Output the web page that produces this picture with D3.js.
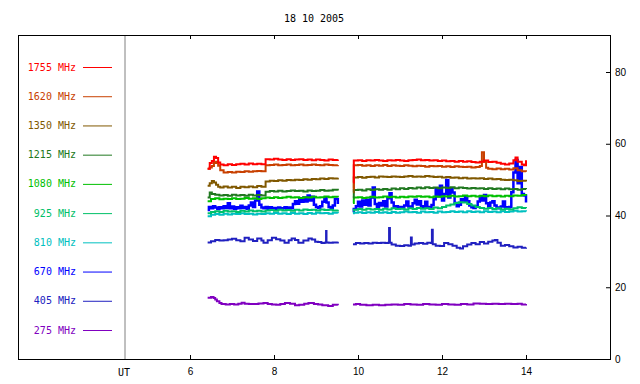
<!DOCTYPE html>
<html>
<head>
<meta charset="utf-8">
<script src="https://cdn.jsdelivr.net/npm/d3@7"></script>
<style>
  body { margin: 0; background: #fff; }
  svg { display: block; font-family: 'DejaVu Sans Mono', monospace; font-size: 10px; }
</style>
</head>
<body>
<svg id="chart" width="640" height="384"></svg>
<script>
const title = '18 10 2005';
const freqs = ['1755 MHz', '1620 MHz', '1350 MHz', '1215 MHz', '1080 MHz', '925 MHz', '810 MHz', '670 MHz', '405 MHz', '275 MHz'];
const colors = ['#ff0000', '#c84000', '#805800', '#207820', '#00c000', '#00c068', '#00c0c0', '#0000ff', '#2020c0', '#8000c0'];
const xTicks = [6, 8, 10, 12, 14];
const yTicks = [0, 20, 40, 60, 80];

// [UT hours, flux]; null marks the data gap
const s1755 = [[6.42,53.0],[6.47,54.6],[6.52,55.2],[6.57,56.4],[6.62,56.0],[6.67,54.8],[6.72,54.2],[6.8,54.0],[6.9,54.3],[7.0,54.1],[7.1,54.3],[7.2,54.4],[7.3,54.2],[7.4,54.5],[7.5,54.3],[7.6,54.4],[7.7,54.3],[7.8,55.7],[7.9,55.6],[8.0,55.8],[8.1,55.6],[8.2,55.5],[8.3,55.7],[8.4,55.5],[8.5,55.6],[8.6,55.7],[8.7,55.5],[8.8,55.6],[8.9,55.4],[9.0,55.6],[9.1,55.5],[9.2,55.3],[9.3,55.6],[9.4,55.5],[9.52,55.6],
  [9.7,null],
  [9.88,49.2],[9.9,55.3],[10.0,55.4],[10.1,55.2],[10.2,55.4],[10.3,55.3],[10.4,55.5],[10.5,55.3],[10.6,55.2],[10.7,55.4],[10.8,55.3],[10.9,55.5],[11.0,55.3],[11.1,55.2],[11.2,55.4],[11.3,55.5],[11.4,55.6],[11.5,55.4],[11.6,55.5],[11.7,55.3],[11.8,55.4],[11.9,55.2],[12.0,55.3],[12.1,55.1],[12.2,55.2],[12.3,55.0],[12.4,55.2],[12.5,55.0],[12.6,55.1],[12.7,54.9],[12.8,54.8],[12.9,55.0],[13.0,55.3],[13.1,54.9],[13.2,55.0],[13.3,54.7],[13.4,54.4],[13.5,54.2],[13.6,54.5],[13.7,55.4],[13.75,56.2],[13.8,55.0],[13.9,54.2],[13.95,54.0],[14.0,55.4]];
const s1620 = [[6.42,53.0],[6.47,53.4],[6.52,53.8],[6.57,54.6],[6.62,55.0],[6.67,53.9],[6.72,52.6],[6.8,52.0],[6.9,52.1],[7.0,52.0],[7.1,52.2],[7.2,52.1],[7.3,52.3],[7.4,52.2],[7.5,52.3],[7.6,52.4],[7.7,52.3],[7.8,54.0],[7.9,54.1],[8.0,54.2],[8.1,54.0],[8.2,54.1],[8.3,54.2],[8.4,54.0],[8.5,54.1],[8.6,54.2],[8.7,54.0],[8.8,54.1],[8.9,54.2],[9.0,54.1],[9.1,54.0],[9.2,54.2],[9.3,54.1],[9.4,54.0],[9.52,54.1],
  [9.7,null],
  [9.88,47.5],[9.9,54.0],[10.0,54.1],[10.1,53.9],[10.2,54.0],[10.3,53.8],[10.4,54.0],[10.5,53.9],[10.6,54.1],[10.7,53.8],[10.8,54.0],[10.9,53.9],[11.0,53.8],[11.1,54.0],[11.2,53.9],[11.3,53.7],[11.4,53.9],[11.5,53.8],[11.6,53.6],[11.7,53.8],[11.8,53.7],[11.9,53.8],[12.0,53.6],[12.1,53.7],[12.2,53.5],[12.3,53.7],[12.4,53.6],[12.5,53.5],[12.6,53.6],[12.7,53.4],[12.8,53.5],[12.9,53.8],[12.95,57.6],[13.0,55.0],[13.05,53.3],[13.1,53.0],[13.2,52.9],[13.3,53.1],[13.4,52.9],[13.5,53.0],[13.6,52.8],[13.7,53.2],[13.8,52.6],[13.9,52.3],[14.0,52.2]];
const s1350 = [[6.42,48.3],[6.47,49.0],[6.52,49.6],[6.57,49.2],[6.62,48.6],[6.67,48.0],[6.72,47.8],[6.8,48.1],[6.9,47.8],[7.0,48.0],[7.1,47.7],[7.2,48.0],[7.3,47.9],[7.4,48.1],[7.5,47.9],[7.6,48.2],[7.7,48.0],[7.8,49.5],[7.9,49.7],[8.0,49.6],[8.1,49.8],[8.2,49.7],[8.3,49.9],[8.4,49.8],[8.5,50.0],[8.6,49.9],[8.7,50.1],[8.8,50.0],[8.9,50.2],[9.0,50.1],[9.1,50.3],[9.2,50.2],[9.3,50.4],[9.4,50.3],[9.52,50.5],
  [9.7,null],
  [9.88,46.5],[9.9,50.6],[10.0,50.7],[10.1,50.5],[10.2,50.7],[10.3,50.8],[10.4,50.6],[10.5,50.9],[10.6,50.8],[10.7,50.7],[10.8,50.9],[10.9,50.8],[11.0,50.7],[11.1,50.9],[11.2,51.0],[11.3,50.8],[11.4,50.9],[11.5,50.8],[11.6,51.0],[11.7,50.9],[11.8,50.7],[11.9,50.8],[12.0,50.6],[12.1,50.7],[12.2,50.5],[12.3,50.6],[12.4,50.4],[12.5,50.5],[12.6,50.3],[12.7,50.4],[12.8,50.3],[12.9,50.4],[13.0,50.2],[13.1,50.3],[13.2,50.1],[13.3,50.2],[13.4,50.0],[13.5,49.9],[13.6,50.0],[13.7,49.8],[13.8,49.6],[13.9,49.7],[14.0,49.5]];
const s1215 = [[6.42,45.0],[6.47,46.4],[6.52,46.0],[6.6,45.8],[6.7,45.6],[6.8,45.7],[6.9,45.5],[7.0,45.8],[7.1,45.6],[7.2,45.7],[7.3,45.5],[7.4,45.8],[7.5,45.6],[7.6,45.7],[7.7,45.6],[7.8,46.6],[7.9,46.8],[8.0,46.7],[8.1,46.9],[8.2,46.7],[8.3,46.8],[8.4,47.0],[8.5,46.8],[8.6,46.9],[8.7,46.7],[8.8,47.0],[8.9,46.8],[9.0,46.9],[9.1,47.1],[9.2,46.9],[9.3,47.0],[9.4,47.2],[9.52,47.0],
  [9.7,null],
  [9.88,45.0],[9.9,47.1],[10.0,47.2],[10.1,47.0],[10.2,47.3],[10.3,47.1],[10.4,47.3],[10.5,47.2],[10.6,47.4],[10.7,47.2],[10.8,47.5],[10.9,47.3],[11.0,47.6],[11.1,47.4],[11.2,47.7],[11.3,47.5],[11.4,47.8],[11.5,47.6],[11.6,47.9],[11.7,47.7],[11.8,47.8],[11.9,47.6],[12.0,47.8],[12.1,47.7],[12.2,47.9],[12.3,47.6],[12.4,47.8],[12.5,47.7],[12.6,47.5],[12.7,47.7],[12.8,47.5],[12.9,47.6],[13.0,47.4],[13.1,47.6],[13.2,47.4],[13.3,47.5],[13.4,47.3],[13.5,47.5],[13.6,47.3],[13.7,47.4],[13.8,47.2],[13.9,47.4],[14.0,47.3]];
const s1080 = [[6.42,44.0],[6.5,44.6],[6.6,44.8],[6.7,44.5],[6.8,44.7],[6.9,44.6],[7.0,44.8],[7.1,44.6],[7.2,44.7],[7.3,44.9],[7.4,44.7],[7.5,44.8],[7.6,44.6],[7.7,44.8],[7.8,45.0],[7.9,44.9],[8.0,45.1],[8.1,44.9],[8.2,45.0],[8.3,45.2],[8.4,45.0],[8.5,45.1],[8.6,44.9],[8.7,45.1],[8.8,45.0],[8.9,45.2],[9.0,45.0],[9.1,45.1],[9.2,45.3],[9.3,45.1],[9.4,45.2],[9.52,45.1],
  [9.7,null],
  [9.88,43.5],[9.9,45.0],[10.0,45.1],[10.1,44.9],[10.2,45.0],[10.3,45.2],[10.4,45.0],[10.5,45.1],[10.6,45.3],[10.7,45.1],[10.8,45.2],[10.9,45.0],[11.0,45.2],[11.1,45.1],[11.2,45.3],[11.3,45.2],[11.4,45.4],[11.5,45.2],[11.6,45.3],[11.7,45.1],[11.8,45.3],[11.9,45.2],[12.0,45.4],[12.1,45.3],[12.2,45.5],[12.3,45.3],[12.4,45.4],[12.5,45.6],[12.6,45.4],[12.7,45.5],[12.8,45.3],[12.9,45.5],[13.0,45.4],[13.1,45.6],[13.2,45.4],[13.3,45.5],[13.4,45.3],[13.5,45.5],[13.6,45.4],[13.7,45.6],[13.8,45.5],[13.9,45.7],[14.0,45.6]];
const s925 = [[6.42,40.6],[6.5,41.0],[6.6,41.2],[6.7,41.0],[6.8,41.3],[6.9,41.1],[7.0,41.2],[7.1,41.0],[7.2,41.3],[7.3,41.1],[7.4,41.4],[7.5,41.2],[7.6,41.3],[7.7,41.1],[7.8,41.4],[7.9,41.5],[8.0,41.3],[8.1,41.6],[8.2,41.4],[8.3,41.5],[8.4,41.3],[8.5,41.6],[8.6,41.4],[8.7,41.7],[8.8,41.5],[8.9,41.6],[9.0,41.4],[9.1,41.7],[9.2,41.5],[9.3,41.6],[9.4,41.4],[9.52,41.6],
  [9.7,null],
  [9.88,41.4],[9.9,41.6],[10.0,41.8],[10.1,41.6],[10.2,41.9],[10.3,41.7],[10.4,41.8],[10.5,41.6],[10.6,41.9],[10.7,41.7],[10.8,42.0],[10.9,41.8],[11.0,41.9],[11.1,41.7],[11.2,42.0],[11.3,41.8],[11.4,42.1],[11.5,41.9],[11.6,42.0],[11.7,41.8],[11.8,42.2],[11.9,42.0],[12.0,42.4],[12.1,42.8],[12.2,43.1],[12.3,43.5],[12.4,43.7],[12.5,43.6],[12.6,43.2],[12.7,42.8],[12.8,42.4],[12.9,42.1],[13.0,41.9],[13.1,42.1],[13.2,41.8],[13.3,42.0],[13.4,41.7],[13.5,41.9],[13.6,41.7],[13.7,42.0],[13.8,42.3],[13.9,42.1],[14.0,42.0]];
const s810 = [[6.42,39.8],[6.5,40.2],[6.6,40.4],[6.7,40.2],[6.8,40.5],[6.9,40.3],[7.0,40.5],[7.1,40.4],[7.2,40.6],[7.3,40.4],[7.4,40.5],[7.5,40.3],[7.6,40.5],[7.7,40.4],[7.8,40.6],[7.9,40.5],[8.0,40.7],[8.1,40.5],[8.2,40.6],[8.3,40.4],[8.4,40.7],[8.5,40.5],[8.6,40.6],[8.7,40.4],[8.8,40.7],[8.9,40.5],[9.0,40.8],[9.1,40.6],[9.2,40.7],[9.3,40.5],[9.4,40.8],[9.52,40.6],
  [9.7,null],
  [9.88,40.6],[9.9,40.8],[10.0,40.9],[10.1,40.7],[10.2,40.9],[10.3,40.8],[10.4,41.0],[10.5,40.8],[10.6,40.9],[10.7,40.7],[10.8,41.0],[10.9,40.8],[11.0,40.9],[11.1,41.1],[11.2,40.9],[11.3,41.0],[11.4,40.8],[11.5,41.1],[11.6,40.9],[11.7,41.0],[11.8,40.8],[11.9,41.1],[12.0,40.9],[12.1,41.0],[12.2,41.2],[12.3,41.0],[12.4,41.1],[12.5,40.9],[12.6,41.2],[12.7,41.0],[12.8,41.1],[12.9,40.9],[13.0,41.2],[13.1,41.0],[13.2,41.1],[13.3,40.9],[13.4,41.2],[13.5,41.0],[13.6,41.1],[13.7,41.3],[13.8,41.1],[13.9,41.2],[14.0,41.1]];
const s670 = [[6.42,41.5],[6.45,42.4],[6.5,42.0],[6.55,42.6],[6.6,42.2],[6.65,41.8],[6.7,42.3],[6.75,42.0],[6.8,42.6],[6.85,42.1],[6.9,43.4],[6.95,42.0],[7.0,42.5],[7.05,41.9],[7.1,42.3],[7.15,42.0],[7.2,42.7],[7.25,42.1],[7.3,42.4],[7.35,41.9],[7.4,42.8],[7.45,43.6],[7.5,42.4],[7.55,44.2],[7.6,46.7],[7.65,43.0],[7.7,42.2],[7.75,42.0],[7.8,42.4],[7.85,41.9],[7.9,42.3],[7.95,42.0],[8.0,42.1],[8.05,41.8],[8.1,42.2],[8.15,41.9],[8.2,42.0],[8.25,42.3],[8.3,41.9],[8.35,42.2],[8.4,42.0],[8.45,43.2],[8.5,44.0],[8.55,43.3],[8.6,44.6],[8.65,43.8],[8.7,45.0],[8.75,43.9],[8.8,45.6],[8.85,44.2],[8.9,45.2],[8.95,43.0],[9.0,42.4],[9.05,42.1],[9.1,42.6],[9.15,43.8],[9.2,44.9],[9.25,43.6],[9.3,42.4],[9.35,42.0],[9.4,42.8],[9.45,44.6],[9.52,43.2],
  [9.7,null],
  [9.88,41.0],[9.9,41.8],[9.95,42.6],[10.0,43.8],[10.05,42.5],[10.1,44.2],[10.15,43.0],[10.2,44.4],[10.25,42.8],[10.3,45.0],[10.35,47.8],[10.4,43.2],[10.45,42.3],[10.5,43.5],[10.55,42.8],[10.6,44.0],[10.65,42.5],[10.7,44.8],[10.75,46.2],[10.8,43.6],[10.85,42.2],[10.9,42.6],[10.95,42.0],[11.0,42.4],[11.05,42.1],[11.1,42.8],[11.15,43.9],[11.2,42.5],[11.25,42.2],[11.3,43.4],[11.35,44.4],[11.4,43.1],[11.45,44.0],[11.5,42.6],[11.55,42.3],[11.6,43.8],[11.65,42.4],[11.7,42.1],[11.75,42.9],[11.8,44.5],[11.85,47.6],[11.9,45.4],[11.95,48.3],[12.0,44.2],[12.05,46.0],[12.1,49.9],[12.15,45.0],[12.2,47.6],[12.25,46.4],[12.3,43.5],[12.35,42.6],[12.4,43.0],[12.45,44.5],[12.5,43.8],[12.55,45.1],[12.6,44.0],[12.65,42.8],[12.7,42.3],[12.75,42.1],[12.8,42.6],[12.85,43.9],[12.9,45.4],[12.95,44.2],[13.0,45.7],[13.05,43.4],[13.1,42.5],[13.15,43.6],[13.2,44.0],[13.25,42.8],[13.3,42.2],[13.35,42.0],[13.4,42.5],[13.45,43.9],[13.5,42.3],[13.55,42.0],[13.6,42.4],[13.65,46.5],[13.7,52.0],[13.75,55.5],[13.8,49.0],[13.85,53.5],[13.9,46.0],[13.95,45.6],[14.0,43.6]];
const s405 = [[6.42,32.5],[6.5,32.8],[6.6,33.2],[6.7,33.0],[6.8,33.1],[6.9,33.3],[7.0,33.5],[7.1,33.1],[7.2,32.8],[7.3,33.8],[7.4,33.3],[7.5,32.9],[7.6,33.6],[7.7,33.0],[7.75,32.4],[7.85,33.1],[7.95,33.8],[8.05,33.4],[8.15,33.0],[8.25,32.4],[8.35,33.1],[8.42,33.6],[8.5,33.2],[8.58,32.4],[8.7,33.0],[8.82,33.6],[8.9,33.3],[8.98,32.7],[9.05,32.6],[9.13,32.3],[9.2,32.4],[9.23,32.5],[9.24,35.7],[9.25,32.5],[9.3,32.4],[9.4,32.5],[9.52,32.7],
  [9.7,null],
  [9.88,32.0],[9.95,32.3],[10.05,32.2],[10.15,32.3],[10.25,32.2],[10.35,32.4],[10.45,32.3],[10.55,32.4],[10.65,32.3],[10.72,32.4],[10.74,36.5],[10.76,32.4],[10.8,31.9],[10.9,31.6],[11.0,31.5],[11.1,31.7],[11.2,31.6],[11.26,33.9],[11.28,31.9],[11.35,32.2],[11.45,32.3],[11.55,32.1],[11.65,32.4],[11.74,32.3],[11.76,36.0],[11.78,32.0],[11.85,31.6],[11.95,31.5],[12.05,32.3],[12.15,32.0],[12.25,31.6],[12.35,31.0],[12.43,30.8],[12.5,31.4],[12.6,31.9],[12.7,32.3],[12.8,32.0],[12.9,32.6],[13.0,32.2],[13.1,32.7],[13.2,33.0],[13.26,33.2],[13.32,32.4],[13.4,31.6],[13.5,31.8],[13.6,31.4],[13.7,31.1],[13.8,31.3],[13.9,31.0],[14.0,31.1]];
const s275 = [[6.42,17.1],[6.5,17.3],[6.56,17.0],[6.6,16.6],[6.64,16.1],[6.7,15.6],[6.75,15.3],[6.85,15.2],[6.95,15.3],[7.05,15.2],[7.15,15.4],[7.23,15.7],[7.3,15.4],[7.4,15.3],[7.5,15.3],[7.63,15.5],[7.75,15.6],[7.85,15.3],[7.95,15.2],[8.05,15.1],[8.15,15.3],[8.26,15.6],[8.38,15.4],[8.5,15.0],[8.6,15.1],[8.72,15.4],[8.82,15.6],[8.95,15.3],[9.05,15.2],[9.15,15.0],[9.29,14.8],[9.4,15.1],[9.52,15.0],
  [9.7,null],
  [9.88,15.2],[9.95,15.3],[10.05,15.1],[10.2,15.0],[10.35,15.1],[10.5,15.0],[10.65,15.1],[10.8,15.2],[10.95,15.1],[11.1,15.3],[11.25,15.2],[11.4,15.1],[11.55,15.3],[11.7,15.2],[11.85,15.1],[12.0,15.3],[12.15,15.2],[12.3,15.1],[12.45,15.3],[12.6,15.2],[12.75,15.5],[12.9,15.4],[13.05,15.3],[13.2,15.4],[13.35,15.3],[13.5,15.4],[13.65,15.3],[13.8,15.4],[13.9,15.2],[14.0,15.3]];

const series = [s1755, s1620, s1350, s1215, s1080, s925, s810, s670, s405, s275];

const svg = d3.select('#chart');
const frame = { left: 18, right: 610, top: 35, bottom: 359, divider: 125 };

const x = d3.scaleLinear().domain([6, 16]).range([190, frame.right]);
const y = d3.scaleLinear().domain([0, 80]).range([frame.bottom, 72]);
const legendY = d3.scaleLinear().domain([0, freqs.length - 1]).range([67, 330]);

svg.append('text')
    .attr('x', 314)
    .attr('y', 22)
    .attr('text-anchor', 'middle')
    .text(title);

// axes
const bottomAxis = svg.append('g')
    .attr('transform', `translate(0,${frame.bottom})`)
    .call(d3.axisBottom(x).tickValues(xTicks).tickSizeInner(-4).tickSizeOuter(0).tickPadding(9));

const topAxis = svg.append('g')
    .attr('transform', `translate(0,${frame.top})`)
    .call(d3.axisTop(x).tickValues(xTicks).tickSizeInner(-4).tickSizeOuter(0).tickFormat(''));

const rightAxis = svg.append('g')
    .attr('transform', `translate(${frame.right},0)`)
    .call(d3.axisRight(y).tickValues(yTicks).tickSizeInner(-4).tickSizeOuter(0).tickPadding(5));

[bottomAxis, topAxis, rightAxis].forEach(g => {
    g.select('.domain').remove();
    g.selectAll('text').attr('font-family', null).attr('font-size', null).attr('fill', '#000');
    g.selectAll('line').attr('stroke', '#000');
});

svg.append('text')
    .attr('x', frame.divider - 1)
    .attr('y', 376)
    .attr('text-anchor', 'middle')
    .text('UT');

svg.append('line')
    .attr('x1', frame.divider).attr('x2', frame.divider)
    .attr('y1', frame.top).attr('y2', frame.bottom)
    .attr('stroke', '#808080');

svg.append('rect')
    .attr('x', frame.left + 0.5)
    .attr('y', frame.top + 0.5)
    .attr('width', frame.right - frame.left)
    .attr('height', frame.bottom - frame.top)
    .attr('fill', 'none')
    .attr('stroke', '#000');

// legend
const legend = svg.append('g')
    .selectAll('g')
    .data(freqs)
    .join('g')
    .attr('transform', (d, i) => `translate(0,${legendY(i)})`);

legend.append('text')
    .attr('x', 76)
    .attr('dy', '0.35em')
    .attr('text-anchor', 'end')
    .attr('fill', (d, i) => colors[i])
    .text(d => d);

legend.append('line')
    .attr('x1', 83).attr('x2', 112)
    .attr('y1', 0.5).attr('y2', 0.5)
    .attr('stroke', (d, i) => colors[i]);

// data lines, lowest frequency drawn first
const line = d3.line()
    .defined(d => d[1] != null)
    .x(d => x(d[0]))
    .y(d => y(d[1]))
    .curve(d3.curveStepAfter);

svg.append('g')
    .selectAll('path')
    .data(series.map((s, i) => ({ s, c: colors[i] })).reverse())
    .join('path')
    .attr('fill', 'none')
    .attr('stroke', d => d.c)
    .attr('stroke-width', d => d.c === '#0000ff' ? 2.5 : 2)
    .attr('d', d => line(d.s));
</script>
</body>
</html>
